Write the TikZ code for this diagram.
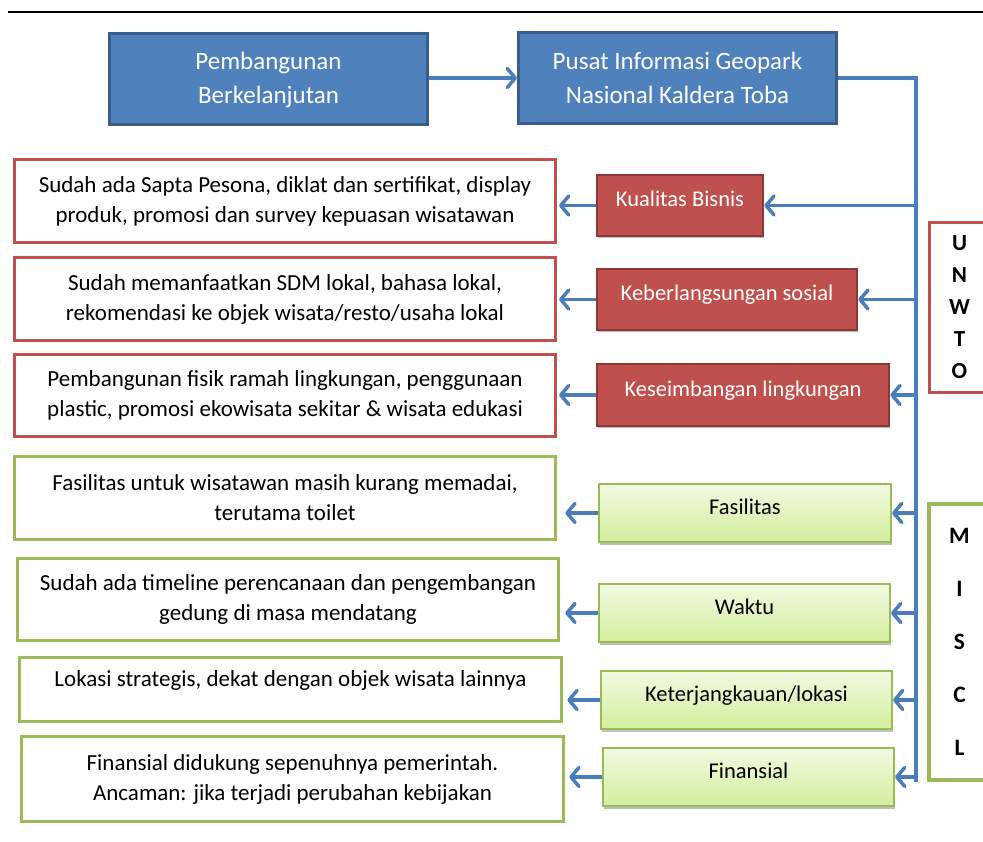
\documentclass[tikz,border=0pt]{standalone}
\usepackage{fontspec}
\setmainfont{Carlito}
\usetikzlibrary{arrows.meta,shadows}
\definecolor{bfill}{HTML}{4F81BD}
\definecolor{bdark}{HTML}{385D8A}
\definecolor{rfill}{HTML}{C0504D}
\definecolor{rdark}{HTML}{8C3836}
\definecolor{gline}{HTML}{9BBB59}
\definecolor{gtop}{HTML}{F2FAE2}
\definecolor{gbot}{HTML}{D3EE9C}
\definecolor{linkc}{HTML}{4A7EBB}
\begin{document}
\begin{tikzpicture}[x=1pt,y=-1pt,
  every node/.style={font=\fontsize{23}{30}\selectfont, inner sep=0pt},
  bluebox/.style={draw=bdark, fill=bfill, line width=3pt, text=white, align=center,
    font=\fontsize{25}{34}\selectfont},
  redlab/.style={draw=rdark, fill=rfill, line width=2.5pt, text=white,
    font=\fontsize{22.5}{30}\selectfont, text height=14pt, text depth=12pt,
    drop shadow={shadow xshift=1pt, shadow yshift=-2pt, opacity=0.25, fill=black}},
  grnlab/.style={draw=gline, top color=gtop, bottom color=gbot, line width=2pt, text=black,
    font=\fontsize{22.5}{30}\selectfont, text height=14pt, text depth=12pt,
    drop shadow={shadow xshift=1pt, shadow yshift=-3pt, opacity=0.25, fill=black}},
  redbox/.style={draw=rfill, fill=white, line width=3pt, align=center},
  grnbox/.style={draw=gline, fill=white, line width=3.5pt, align=center},
  sidebox/.style={fill=white, line width=3pt, align=center,
    font=\fontsize{23}{32}\selectfont\bfseries},
  link/.style={draw=linkc, line width=3.5pt},
  arr/.style={link, -{Straight Barb[length=8pt,width=19pt,round]}}
]
\clip (0,0) rectangle (983,842);
\fill[white] (0,0) rectangle (983,842);
\draw[line width=2pt] (8,12.5) -- (983,12.5);

% top boxes
\node[bluebox, minimum width=318pt, minimum height=91pt] (A) at (268.5,79.5)
  {Pembangunan\\Berkelanjutan};
\node[bluebox, minimum width=318pt, minimum height=91pt] (B) at (677.5,78)
  {Pusat Informasi Geopark\\Nasional Kaldera Toba};

% side boxes
\node[sidebox, draw=rfill, minimum width=61pt, minimum height=170pt] (U) at (959.5,307.5)
  {U\\N\\W\\T\\O};
\node[sidebox, draw=gline, line width=3.5pt, minimum width=61pt, minimum height=276pt,
  font=\fontsize{23.5}{53}\selectfont\bfseries] (M) at (959.5,642)
  {M\\I\\S\\C\\L};

% label boxes
\node[redlab, minimum width=166pt, minimum height=61pt] (r1) at (680,205.5) {Kualitas Bisnis};
\node[redlab, minimum width=260pt, minimum height=61pt] (r2) at (727,299.5) {Keberlangsungan sosial};
\node[redlab, minimum width=292pt, minimum height=62pt] (r3) at (743,395) {Keseimbangan lingkungan};
\node[grnlab, minimum width=292pt, minimum height=58pt] (g1) at (745,513) {Fasilitas};
\node[grnlab, minimum width=291pt, minimum height=58pt] (g2) at (744.5,613) {Waktu};
\node[grnlab, minimum width=291pt, minimum height=58pt] (g3) at (746.5,700) {Keterjangkauan/lokasi};
\node[grnlab, minimum width=291pt, minimum height=58pt] (g4) at (748.5,777) {Finansial};

% left text boxes
\node[redbox, minimum width=541pt, minimum height=83pt] (L1) at (285,201)
  {Sudah ada Sapta Pesona, diklat dan sertifikat, display\\produk, promosi dan survey kepuasan wisatawan};
\node[redbox, minimum width=541pt, minimum height=83pt] (L2) at (285,299)
  {Sudah memanfaatkan SDM lokal, bahasa lokal,\\rekomendasi ke objek wisata/resto/usaha lokal};
\node[redbox, minimum width=541pt, minimum height=82pt] (L3) at (285,395.5)
  {Pembangunan fisik ramah lingkungan, penggunaan\\plastic, promosi ekowisata sekitar \& wisata edukasi};
\node[grnbox, minimum width=541pt, minimum height=83pt] (L4) at (285,498)
  {Fasilitas untuk wisatawan masih kurang memadai,\\terutama toilet};
\node[grnbox, minimum width=541pt, minimum height=82pt] (L5) at (288,599.5)
  {Sudah ada timeline perencanaan dan pengembangan\\gedung di masa mendatang};
\node[grnbox, minimum width=542pt, minimum height=64pt] (L6) at (290.5,689.5)
  {\raisebox{9pt}[\height][\depth]{Lokasi strategis, dekat dengan objek wisata lainnya}};
\node[grnbox, minimum width=542pt, minimum height=85pt] (L7) at (292.5,779)
  {Finansial didukung sepenuhnya pemerintah.\\Ancaman: jika terjadi perubahan kebijakan};

% connectors
\coordinate (t1) at (916,78);
\coordinate (t2) at (916,782);
\draw[arr] (A.east |- B.west) -- (B.west);
\draw[link] (B.east) -- (t1) -- (t2);
\foreach \n in {r1,r2,r3,g1,g2,g3,g4}{
  \draw[arr] (\n.east -| t1) -- (\n.east);
}
\draw[arr, shorten >=2pt] (r1.west) -- (r1.west -| L1.east);
\draw[arr, shorten >=2pt] (r2.west) -- (r2.west -| L2.east);
\draw[arr, shorten >=2pt] (r3.west) -- (r3.west -| L3.east);
\draw[arr, shorten >=8pt] (g1.west) -- (g1.west -| L4.east);
\draw[arr, shorten >=5pt] (g2.west) -- (g2.west -| L5.east);
\draw[arr, shorten >=4pt] (g3.west) -- (g3.west -| L6.east);
\draw[arr, shorten >=4pt] (g4.west) -- (g4.west -| L7.east);
\end{tikzpicture}
\end{document}
